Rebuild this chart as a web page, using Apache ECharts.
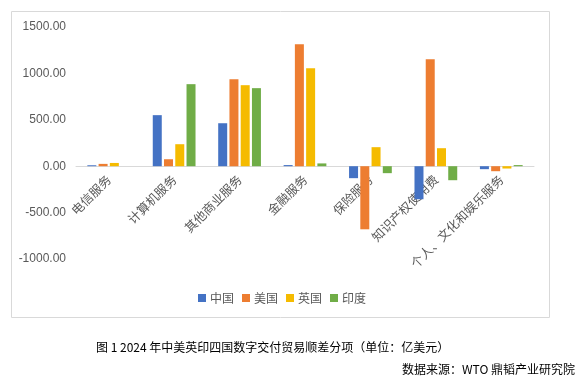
<!DOCTYPE html>
<html>
<head>
<meta charset="utf-8">
<script src="https://cdn.jsdelivr.net/npm/echarts@6/dist/echarts.min.js"></script>
<style>html,body{margin:0;padding:0;background:#fff;}#c{width:585px;height:385px;}</style>
</head>
<body>
<div id="c"></div>
<script>
const categories = ['电信服务','计算机服务','其他商业服务','金融服务','保险服务','知识产权使用费','个人、文化和娱乐服务'];
const seriesNames = ['中国','美国','英国','印度'];
const china = [10, 550, 463, 12, -129, -356, -32];
const usa = [25, 75, 938, 1315, -680, 1153, -54];
const uk = [35, 237, 873, 1056, 205, 194, -25];
const india = [0, 884, 841, 30, -75, -151, 12];
const yTicks = [-1000, -500, 0, 500, 1000, 1500];
const colors = ['#4472C4', '#ED7D31', '#F5BB00', '#70AD47'];
const titleText = '图 1 2024 年中美英印四国数字交付贸易顺差分项（单位：亿美元）';
const sourceText = '数据来源：WTO 鼎韬产业研究院';

const font = '"Noto Sans CJK SC", "Noto Sans", sans-serif';
const chart = echarts.init(document.getElementById('c'), null, {renderer: 'canvas'});
const allData = [china, usa, uk, india];
const gridTop = 27, gridBottom = 126, plotH = 385 - gridTop - gridBottom;
const yMin = yTicks[0], yMax = yTicks[yTicks.length - 1];
const zeroOffset = -plotH * (0 - yMin) / (yMax - yMin);
chart.setOption({
  animation: false,
  color: colors,
  textStyle: {fontFamily: font},
  grid: {left: 76, right: 51, top: gridTop, bottom: gridBottom, containLabel: false},
  legend: {
    data: seriesNames, left: 193, top: 287, itemWidth: 8, itemHeight: 8, itemGap: 8,
    icon: 'rect',
    textStyle: {color: '#595959', fontSize: 12, fontFamily: font, padding: [0, 0, 0, -1]}
  },
  xAxis: [{
    type: 'category', data: categories,
    axisLine: {onZero: true, lineStyle: {color: '#D9D9D9', width: 1}},
    axisTick: {show: false},
    axisLabel: {show: false}
  }, {
    type: 'category', data: categories, position: 'bottom', offset: zeroOffset,
    axisLine: {show: false, onZero: false},
    axisTick: {show: false},
    axisLabel: {rotate: 45, color: '#595959', fontSize: 12.5, interval: 0, margin: 11, fontFamily: font}
  }],
  yAxis: {
    type: 'value', min: yMin, max: yMax, interval: 500,
    axisLine: {show: false}, axisTick: {show: false}, splitLine: {show: false},
    axisLabel: {color: '#595959', fontSize: 12, margin: 10, fontFamily: '"Liberation Sans", sans-serif',
      formatter: v => v.toFixed(2)}
  },
  series: seriesNames.map((n, i) => ({
    name: n, type: 'bar', data: allData[i], barWidth: 9, barGap: '25%', barCategoryGap: '34%'
  })),
  graphic: [
    {type: 'rect', shape: {x: 11.5, y: 11.5, width: 538, height: 306}, style: {fill: 'none', stroke: '#D9D9D9', lineWidth: 1}, z: -1},
    {type: 'text', left: 96, top: 341, style: {text: titleText, fill: '#000', font: '12px ' + font}},
    {type: 'text', right: 10, top: 363, style: {text: sourceText, fill: '#000', font: '12px ' + font}}
  ]
});
</script>
</body>
</html>
